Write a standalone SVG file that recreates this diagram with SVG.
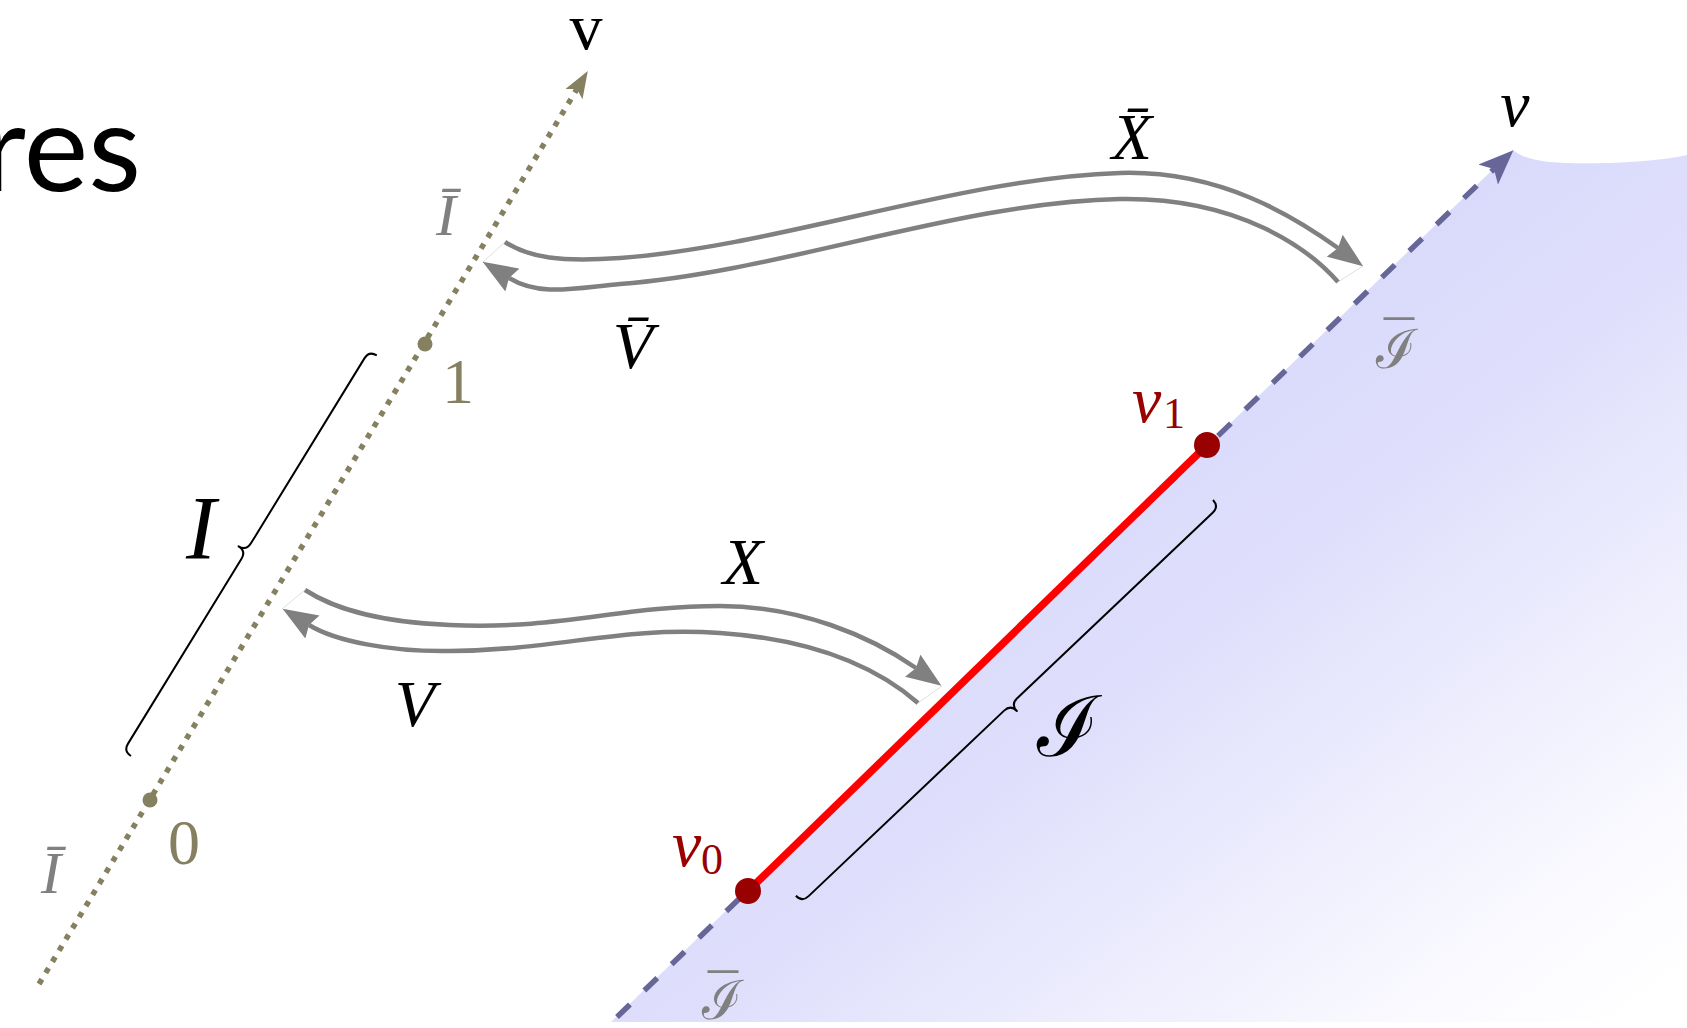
<svg xmlns="http://www.w3.org/2000/svg" width="1687" height="1028" viewBox="0 0 1687 1028">
  <defs>
    <linearGradient id="bg" gradientUnits="userSpaceOnUse" x1="1100" y1="400" x2="1600" y2="1050">
      <stop offset="0" stop-color="#d8d8fb"/>
      <stop offset="0.3" stop-color="#dfdffc"/>
      <stop offset="0.85" stop-color="#fbfbff"/>
      <stop offset="1" stop-color="#ffffff"/>
    </linearGradient>
    <marker id="garrow" markerUnits="userSpaceOnUse" viewBox="0 0 36 28" refX="4" refY="14" markerWidth="36" markerHeight="28" orient="auto">
      <path d="M0,0.5 L35,14 L0,27.5 L4,14 z" fill="#808080"/>
    </marker>
    <marker id="oarrow" markerUnits="userSpaceOnUse" viewBox="0 0 28 20" refX="6" refY="10" markerWidth="28" markerHeight="20" orient="auto">
      <path d="M0,0 L27,10 L0,20 L6,10 z" fill="#858060"/>
    </marker>
    <marker id="barrow" markerUnits="userSpaceOnUse" viewBox="0 0 36 28" refX="8" refY="14" markerWidth="36" markerHeight="28" orient="auto">
      <path d="M0,0 L35,14 L0,28 L8,14 z" fill="#666699"/>
    </marker>
  </defs>
  <style>
    .math { font-family: "Liberation Serif", "DejaVu Serif", serif; font-style: italic; }
    .rm { font-family: "Liberation Serif", "DejaVu Serif", serif; font-style: normal; }
    .cal { font-family: "DejaVu Serif", "Liberation Serif", serif; font-style: normal; }
    .lbl { font-size: 66px; text-anchor: middle; }
    .gray { fill: #808080; }
    .olive { fill: #858060; }
    .dred { fill: #990000; }
    .garr { fill: none; stroke: #808080; stroke-width: 4.5; marker-end: url(#garrow); }
    .faint { stroke: #d6d6d6; stroke-width: 0.8; fill: none; }
    .brace { fill: none; stroke: #000; stroke-width: 2; stroke-linejoin: round; }
  </style>

  <!-- title fragment -->
  <text x="141" y="191" font-family="Lato, 'Open Sans', sans-serif" font-size="122" text-anchor="end" fill="#000">res</text>

  <!-- shaded region -->
  <g id="region">
    <path d="M611,1022 L1513,150 C1528,163 1560,164 1610,163 Q1660,161 1687,155 L1687,1022 Z" fill="url(#bg)"/>
  </g>

  <!-- olive axis -->
  <g id="axis-olive">
    <line x1="39" y1="984" x2="577" y2="89" stroke="#858060" stroke-width="5.5" stroke-dasharray="5.5 7.5" marker-end="url(#oarrow)"/>
    <circle cx="425" cy="344" r="7.5" fill="#858060"/>
    <circle cx="150" cy="800" r="7.5" fill="#858060"/>
    <text class="rm" x="586" y="49" font-size="66" text-anchor="middle" fill="#000">v</text>
    <text class="rm olive" x="458" y="403" font-size="64" text-anchor="middle">1</text>
    <text class="rm olive" x="184" y="864" font-size="64" text-anchor="middle">0</text>
    <text class="math gray" x="446" y="235" font-size="60" text-anchor="middle">Ī</text>
    <text class="math gray" x="51" y="893" font-size="60" text-anchor="middle">Ī</text>
  </g>

  <!-- brace I -->
  <g id="brace-I">
    <path class="brace" transform="translate(131,756) rotate(-58.47)" d="M0,0 Q0,-9 9,-9 L226,-9 Q235,-9 235,-18 Q235,-9 244,-9 L461,-9 Q470,-9 470,0"/>
    <text class="math" x="201" y="559" font-size="90" text-anchor="middle">I</text>
  </g>

  <!-- blue axis -->
  <g id="axis-blue">
    <line x1="617" y1="1017" x2="1494" y2="169" stroke="#666699" stroke-width="5.5" stroke-dasharray="18 20" marker-end="url(#barrow)"/>
    <text class="math" x="1515" y="126" font-size="66" text-anchor="middle">v</text>
    <text class="cal gray" font-size="54" text-anchor="middle"><tspan x="1396" y="368">ℐ</tspan><tspan class="rm" font-size="60" x="1399" y="362">¯</tspan></text>
    <text class="cal gray" font-size="54" text-anchor="middle"><tspan x="722" y="1019">ℐ</tspan><tspan class="rm" font-size="60" x="723" y="1015">¯</tspan></text>
  </g>

  <!-- segment v0 v1 -->
  <g id="segment">
    <line x1="748" y1="891" x2="1207" y2="445" stroke="#ff0000" stroke-width="7.5"/>
    <circle cx="748" cy="891" r="13" fill="#990000"/>
    <circle cx="1207" cy="445" r="13" fill="#990000"/>
    <text class="math dred" x="672" y="866" font-size="66">v<tspan class="rm" font-size="44" x="701" y="874">0</tspan></text>
    <text class="math dred" x="1132" y="422" font-size="66">v<tspan class="rm" font-size="44" x="1163" y="428">1</tspan></text>
  </g>

  <!-- brace calI -->
  <g id="brace-calI">
    <path class="brace" transform="translate(1213,500) rotate(136.5)" d="M0,0 Q0,-9 9,-9 L278.5,-9 Q287.5,-9 287.5,-18 Q287.5,-9 296.5,-9 L566,-9 Q575,-9 575,0"/>
    <text class="cal" x="1068" y="756" font-size="84" text-anchor="middle">ℐ</text>
  </g>

  <!-- connectors -->
  <g id="connectors">
    <path class="faint" d="M505,242 L483,262"/>
    <path class="faint" d="M1363,266 L1338,282"/>
    <path class="faint" d="M305,590 L282,609"/>
    <path class="faint" d="M942,686 L918,703"/>
    <path class="garr" d="M505,242 C530,258 560,262 620,258 C780,246 960,178 1120,173 C1220,170 1295,217 1338,248"/>
    <path class="garr" d="M1338,282 C1310,250 1240,197 1120,199 C960,202 780,272 620,284 C575,288 540,297 509,278"/>
    <path class="garr" d="M305,590 C330,606 370,622 450,625 C560,630 620,606 720,606 C800,606 870,636 916,668"/>
    <path class="garr" d="M918,703 C880,670 820,640 720,633 C620,626 560,650 450,651 C390,652 335,641 309,625"/>
    <text class="math lbl" x="1132" y="159">X̄</text>
    <text class="math lbl" x="633" y="368">V̄</text>
    <text class="math lbl" x="743" y="584">X</text>
    <text class="math lbl" x="415" y="726">V</text>
  </g>
</svg>
